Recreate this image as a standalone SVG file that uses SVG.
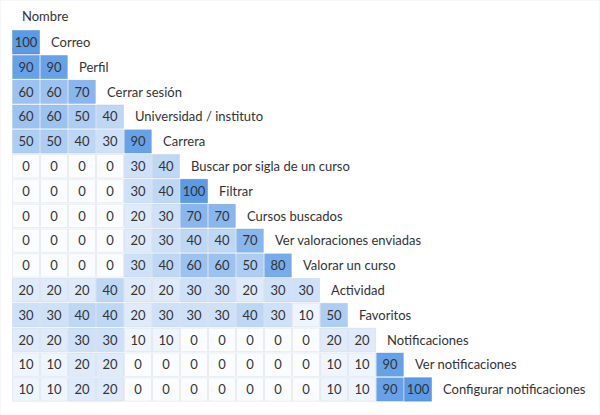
<svg xmlns="http://www.w3.org/2000/svg" width="600" height="415" viewBox="0 0 600 415">
<style>
text{font-family:Lato,"Open Sans","Liberation Sans",sans-serif;font-size:13px;fill:#333}
.n{text-anchor:middle}
rect{stroke:rgba(60,100,150,0.10);stroke-width:1}
.c0{fill:#fbfcfd}.c10{fill:#eff5fd}.c20{fill:#dfebfa}.c30{fill:#cee1f8}.c40{fill:#bdd7f5}
.c50{fill:#adcdf3}.c60{fill:#9cc2f0}.c70{fill:#88b6ed}.c80{fill:#77abea}.c90{fill:#67a2e8}.c100{fill:#5a9ae6;stroke:rgba(50,110,200,0.35)}
</style>
<rect width="600" height="415" fill="#fff" stroke="none"/>
<text x="22" y="20.5">Nombre</text>
<g id="r0"><rect class="c100" x="12.5" y="30.5" width="27" height="23.5"/><text class="n" x="26" y="47">100</text><text x="51" y="47">Correo</text></g>
<g id="r1"><rect class="c90" x="12.5" y="55.3" width="27" height="23.5"/><text class="n" x="26" y="71.8">90</text><rect class="c90" x="40.5" y="55.3" width="27" height="23.5"/><text class="n" x="54" y="71.8">90</text><text x="79" y="71.8">Perfil</text></g>
<g id="r2"><rect class="c60" x="12.5" y="80.1" width="27" height="23.5"/><text class="n" x="26" y="96.6">60</text><rect class="c60" x="40.5" y="80.1" width="27" height="23.5"/><text class="n" x="54" y="96.6">60</text><rect class="c70" x="68.5" y="80.1" width="27" height="23.5"/><text class="n" x="82" y="96.6">70</text><text x="107" y="96.6">Cerrar sesión</text></g>
<g id="r3"><rect class="c60" x="12.5" y="104.9" width="27" height="23.5"/><text class="n" x="26" y="121.4">60</text><rect class="c60" x="40.5" y="104.9" width="27" height="23.5"/><text class="n" x="54" y="121.4">60</text><rect class="c50" x="68.5" y="104.9" width="27" height="23.5"/><text class="n" x="82" y="121.4">50</text><rect class="c40" x="96.5" y="104.9" width="27" height="23.5"/><text class="n" x="110" y="121.4">40</text><text x="135" y="121.4">Universidad / instituto</text></g>
<g id="r4"><rect class="c50" x="12.5" y="129.7" width="27" height="23.5"/><text class="n" x="26" y="146.2">50</text><rect class="c50" x="40.5" y="129.7" width="27" height="23.5"/><text class="n" x="54" y="146.2">50</text><rect class="c40" x="68.5" y="129.7" width="27" height="23.5"/><text class="n" x="82" y="146.2">40</text><rect class="c30" x="96.5" y="129.7" width="27" height="23.5"/><text class="n" x="110" y="146.2">30</text><rect class="c90" x="124.5" y="129.7" width="27" height="23.5"/><text class="n" x="138" y="146.2">90</text><text x="163" y="146.2">Carrera</text></g>
<g id="r5"><rect class="c0" x="12.5" y="154.5" width="27" height="23.5"/><text class="n" x="26" y="171">0</text><rect class="c0" x="40.5" y="154.5" width="27" height="23.5"/><text class="n" x="54" y="171">0</text><rect class="c0" x="68.5" y="154.5" width="27" height="23.5"/><text class="n" x="82" y="171">0</text><rect class="c0" x="96.5" y="154.5" width="27" height="23.5"/><text class="n" x="110" y="171">0</text><rect class="c30" x="124.5" y="154.5" width="27" height="23.5"/><text class="n" x="138" y="171">30</text><rect class="c40" x="152.5" y="154.5" width="27" height="23.5"/><text class="n" x="166" y="171">40</text><text x="191" y="171">Buscar por sigla de un curso</text></g>
<g id="r6"><rect class="c0" x="12.5" y="179.3" width="27" height="23.5"/><text class="n" x="26" y="195.8">0</text><rect class="c0" x="40.5" y="179.3" width="27" height="23.5"/><text class="n" x="54" y="195.8">0</text><rect class="c0" x="68.5" y="179.3" width="27" height="23.5"/><text class="n" x="82" y="195.8">0</text><rect class="c0" x="96.5" y="179.3" width="27" height="23.5"/><text class="n" x="110" y="195.8">0</text><rect class="c30" x="124.5" y="179.3" width="27" height="23.5"/><text class="n" x="138" y="195.8">30</text><rect class="c40" x="152.5" y="179.3" width="27" height="23.5"/><text class="n" x="166" y="195.8">40</text><rect class="c100" x="180.5" y="179.3" width="27" height="23.5"/><text class="n" x="194" y="195.8">100</text><text x="219" y="195.8">Filtrar</text></g>
<g id="r7"><rect class="c0" x="12.5" y="204.1" width="27" height="23.5"/><text class="n" x="26" y="220.6">0</text><rect class="c0" x="40.5" y="204.1" width="27" height="23.5"/><text class="n" x="54" y="220.6">0</text><rect class="c0" x="68.5" y="204.1" width="27" height="23.5"/><text class="n" x="82" y="220.6">0</text><rect class="c0" x="96.5" y="204.1" width="27" height="23.5"/><text class="n" x="110" y="220.6">0</text><rect class="c20" x="124.5" y="204.1" width="27" height="23.5"/><text class="n" x="138" y="220.6">20</text><rect class="c30" x="152.5" y="204.1" width="27" height="23.5"/><text class="n" x="166" y="220.6">30</text><rect class="c70" x="180.5" y="204.1" width="27" height="23.5"/><text class="n" x="194" y="220.6">70</text><rect class="c70" x="208.5" y="204.1" width="27" height="23.5"/><text class="n" x="222" y="220.6">70</text><text x="247" y="220.6">Cursos buscados</text></g>
<g id="r8"><rect class="c0" x="12.5" y="228.9" width="27" height="23.5"/><text class="n" x="26" y="245.4">0</text><rect class="c0" x="40.5" y="228.9" width="27" height="23.5"/><text class="n" x="54" y="245.4">0</text><rect class="c0" x="68.5" y="228.9" width="27" height="23.5"/><text class="n" x="82" y="245.4">0</text><rect class="c0" x="96.5" y="228.9" width="27" height="23.5"/><text class="n" x="110" y="245.4">0</text><rect class="c20" x="124.5" y="228.9" width="27" height="23.5"/><text class="n" x="138" y="245.4">20</text><rect class="c30" x="152.5" y="228.9" width="27" height="23.5"/><text class="n" x="166" y="245.4">30</text><rect class="c40" x="180.5" y="228.9" width="27" height="23.5"/><text class="n" x="194" y="245.4">40</text><rect class="c40" x="208.5" y="228.9" width="27" height="23.5"/><text class="n" x="222" y="245.4">40</text><rect class="c70" x="236.5" y="228.9" width="27" height="23.5"/><text class="n" x="250" y="245.4">70</text><text x="275" y="245.4">Ver valoraciones enviadas</text></g>
<g id="r9"><rect class="c0" x="12.5" y="253.7" width="27" height="23.5"/><text class="n" x="26" y="270.2">0</text><rect class="c0" x="40.5" y="253.7" width="27" height="23.5"/><text class="n" x="54" y="270.2">0</text><rect class="c0" x="68.5" y="253.7" width="27" height="23.5"/><text class="n" x="82" y="270.2">0</text><rect class="c0" x="96.5" y="253.7" width="27" height="23.5"/><text class="n" x="110" y="270.2">0</text><rect class="c30" x="124.5" y="253.7" width="27" height="23.5"/><text class="n" x="138" y="270.2">30</text><rect class="c40" x="152.5" y="253.7" width="27" height="23.5"/><text class="n" x="166" y="270.2">40</text><rect class="c60" x="180.5" y="253.7" width="27" height="23.5"/><text class="n" x="194" y="270.2">60</text><rect class="c60" x="208.5" y="253.7" width="27" height="23.5"/><text class="n" x="222" y="270.2">60</text><rect class="c50" x="236.5" y="253.7" width="27" height="23.5"/><text class="n" x="250" y="270.2">50</text><rect class="c80" x="264.5" y="253.7" width="27" height="23.5"/><text class="n" x="278" y="270.2">80</text><text x="303" y="270.2">Valorar un curso</text></g>
<g id="r10"><rect class="c20" x="12.5" y="278.5" width="27" height="23.5"/><text class="n" x="26" y="295">20</text><rect class="c20" x="40.5" y="278.5" width="27" height="23.5"/><text class="n" x="54" y="295">20</text><rect class="c20" x="68.5" y="278.5" width="27" height="23.5"/><text class="n" x="82" y="295">20</text><rect class="c40" x="96.5" y="278.5" width="27" height="23.5"/><text class="n" x="110" y="295">40</text><rect class="c20" x="124.5" y="278.5" width="27" height="23.5"/><text class="n" x="138" y="295">20</text><rect class="c20" x="152.5" y="278.5" width="27" height="23.5"/><text class="n" x="166" y="295">20</text><rect class="c30" x="180.5" y="278.5" width="27" height="23.5"/><text class="n" x="194" y="295">30</text><rect class="c30" x="208.5" y="278.5" width="27" height="23.5"/><text class="n" x="222" y="295">30</text><rect class="c20" x="236.5" y="278.5" width="27" height="23.5"/><text class="n" x="250" y="295">20</text><rect class="c30" x="264.5" y="278.5" width="27" height="23.5"/><text class="n" x="278" y="295">30</text><rect class="c30" x="292.5" y="278.5" width="27" height="23.5"/><text class="n" x="306" y="295">30</text><text x="331" y="295">Actividad</text></g>
<g id="r11"><rect class="c30" x="12.5" y="303.3" width="27" height="23.5"/><text class="n" x="26" y="319.8">30</text><rect class="c30" x="40.5" y="303.3" width="27" height="23.5"/><text class="n" x="54" y="319.8">30</text><rect class="c40" x="68.5" y="303.3" width="27" height="23.5"/><text class="n" x="82" y="319.8">40</text><rect class="c40" x="96.5" y="303.3" width="27" height="23.5"/><text class="n" x="110" y="319.8">40</text><rect class="c20" x="124.5" y="303.3" width="27" height="23.5"/><text class="n" x="138" y="319.8">20</text><rect class="c30" x="152.5" y="303.3" width="27" height="23.5"/><text class="n" x="166" y="319.8">30</text><rect class="c30" x="180.5" y="303.3" width="27" height="23.5"/><text class="n" x="194" y="319.8">30</text><rect class="c30" x="208.5" y="303.3" width="27" height="23.5"/><text class="n" x="222" y="319.8">30</text><rect class="c40" x="236.5" y="303.3" width="27" height="23.5"/><text class="n" x="250" y="319.8">40</text><rect class="c30" x="264.5" y="303.3" width="27" height="23.5"/><text class="n" x="278" y="319.8">30</text><rect class="c10" x="292.5" y="303.3" width="27" height="23.5"/><text class="n" x="306" y="319.8">10</text><rect class="c50" x="320.5" y="303.3" width="27" height="23.5"/><text class="n" x="334" y="319.8">50</text><text x="359" y="319.8">Favoritos</text></g>
<g id="r12"><rect class="c20" x="12.5" y="328.1" width="27" height="23.5"/><text class="n" x="26" y="344.6">20</text><rect class="c20" x="40.5" y="328.1" width="27" height="23.5"/><text class="n" x="54" y="344.6">20</text><rect class="c30" x="68.5" y="328.1" width="27" height="23.5"/><text class="n" x="82" y="344.6">30</text><rect class="c30" x="96.5" y="328.1" width="27" height="23.5"/><text class="n" x="110" y="344.6">30</text><rect class="c10" x="124.5" y="328.1" width="27" height="23.5"/><text class="n" x="138" y="344.6">10</text><rect class="c10" x="152.5" y="328.1" width="27" height="23.5"/><text class="n" x="166" y="344.6">10</text><rect class="c0" x="180.5" y="328.1" width="27" height="23.5"/><text class="n" x="194" y="344.6">0</text><rect class="c0" x="208.5" y="328.1" width="27" height="23.5"/><text class="n" x="222" y="344.6">0</text><rect class="c0" x="236.5" y="328.1" width="27" height="23.5"/><text class="n" x="250" y="344.6">0</text><rect class="c0" x="264.5" y="328.1" width="27" height="23.5"/><text class="n" x="278" y="344.6">0</text><rect class="c0" x="292.5" y="328.1" width="27" height="23.5"/><text class="n" x="306" y="344.6">0</text><rect class="c20" x="320.5" y="328.1" width="27" height="23.5"/><text class="n" x="334" y="344.6">20</text><rect class="c20" x="348.5" y="328.1" width="27" height="23.5"/><text class="n" x="362" y="344.6">20</text><text x="387" y="344.6">Notificaciones</text></g>
<g id="r13"><rect class="c10" x="12.5" y="352.9" width="27" height="23.5"/><text class="n" x="26" y="369.4">10</text><rect class="c10" x="40.5" y="352.9" width="27" height="23.5"/><text class="n" x="54" y="369.4">10</text><rect class="c20" x="68.5" y="352.9" width="27" height="23.5"/><text class="n" x="82" y="369.4">20</text><rect class="c20" x="96.5" y="352.9" width="27" height="23.5"/><text class="n" x="110" y="369.4">20</text><rect class="c0" x="124.5" y="352.9" width="27" height="23.5"/><text class="n" x="138" y="369.4">0</text><rect class="c0" x="152.5" y="352.9" width="27" height="23.5"/><text class="n" x="166" y="369.4">0</text><rect class="c0" x="180.5" y="352.9" width="27" height="23.5"/><text class="n" x="194" y="369.4">0</text><rect class="c0" x="208.5" y="352.9" width="27" height="23.5"/><text class="n" x="222" y="369.4">0</text><rect class="c0" x="236.5" y="352.9" width="27" height="23.5"/><text class="n" x="250" y="369.4">0</text><rect class="c0" x="264.5" y="352.9" width="27" height="23.5"/><text class="n" x="278" y="369.4">0</text><rect class="c0" x="292.5" y="352.9" width="27" height="23.5"/><text class="n" x="306" y="369.4">0</text><rect class="c10" x="320.5" y="352.9" width="27" height="23.5"/><text class="n" x="334" y="369.4">10</text><rect class="c10" x="348.5" y="352.9" width="27" height="23.5"/><text class="n" x="362" y="369.4">10</text><rect class="c90" x="376.5" y="352.9" width="27" height="23.5"/><text class="n" x="390" y="369.4">90</text><text x="415" y="369.4">Ver notificaciones</text></g>
<g id="r14"><rect class="c10" x="12.5" y="377.7" width="27" height="23.5"/><text class="n" x="26" y="394.2">10</text><rect class="c10" x="40.5" y="377.7" width="27" height="23.5"/><text class="n" x="54" y="394.2">10</text><rect class="c20" x="68.5" y="377.7" width="27" height="23.5"/><text class="n" x="82" y="394.2">20</text><rect class="c20" x="96.5" y="377.7" width="27" height="23.5"/><text class="n" x="110" y="394.2">20</text><rect class="c0" x="124.5" y="377.7" width="27" height="23.5"/><text class="n" x="138" y="394.2">0</text><rect class="c0" x="152.5" y="377.7" width="27" height="23.5"/><text class="n" x="166" y="394.2">0</text><rect class="c0" x="180.5" y="377.7" width="27" height="23.5"/><text class="n" x="194" y="394.2">0</text><rect class="c0" x="208.5" y="377.7" width="27" height="23.5"/><text class="n" x="222" y="394.2">0</text><rect class="c0" x="236.5" y="377.7" width="27" height="23.5"/><text class="n" x="250" y="394.2">0</text><rect class="c0" x="264.5" y="377.7" width="27" height="23.5"/><text class="n" x="278" y="394.2">0</text><rect class="c0" x="292.5" y="377.7" width="27" height="23.5"/><text class="n" x="306" y="394.2">0</text><rect class="c10" x="320.5" y="377.7" width="27" height="23.5"/><text class="n" x="334" y="394.2">10</text><rect class="c10" x="348.5" y="377.7" width="27" height="23.5"/><text class="n" x="362" y="394.2">10</text><rect class="c90" x="376.5" y="377.7" width="27" height="23.5"/><text class="n" x="390" y="394.2">90</text><rect class="c100" x="404.5" y="377.7" width="27" height="23.5"/><text class="n" x="418" y="394.2">100</text><text x="443" y="394.2">Configurar notificaciones</text></g>
</svg>
